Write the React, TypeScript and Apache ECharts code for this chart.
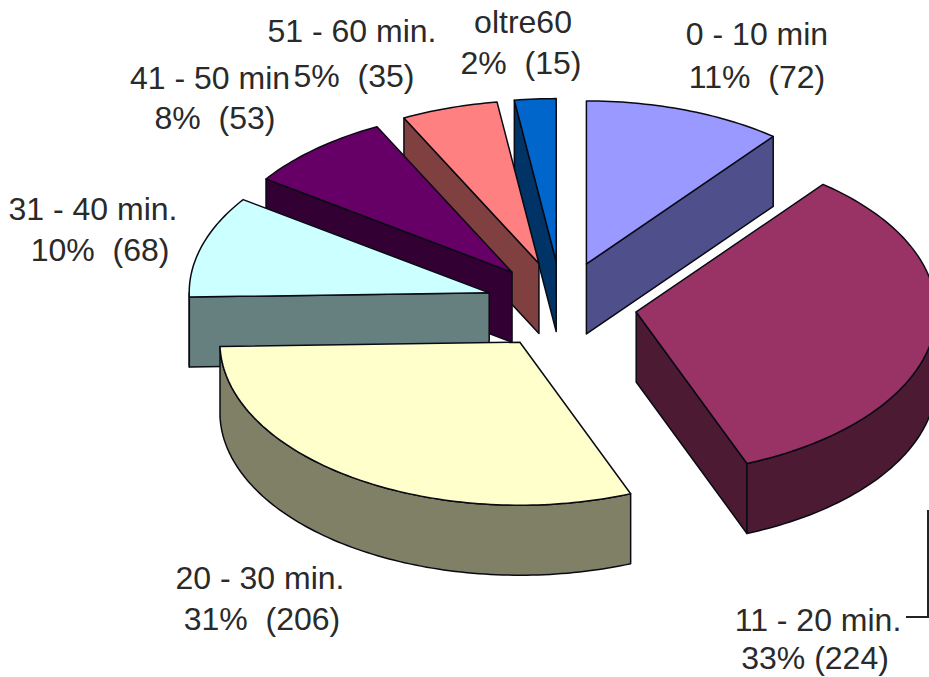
import React, { useEffect, useRef } from "react";
import * as echarts from "echarts";

const categories = ["0 - 10 min", "11 - 20 min.", "20 - 30 min.", "31 - 40 min.", "41 - 50 min", "51 - 60 min.", "oltre60"];
const values = [72, 224, 206, 68, 53, 35, 15];
const details = ["11%  (72)", "33% (224)", "31%  (206)", "10%  (68)", "8%  (53)", "5%  (35)", "2%  (15)"];
const topColors = ["#9999FF", "#993366", "#FFFFCC", "#CCFFFF", "#660066", "#FF8080", "#0066CC"];
const sideColors = ["#4F4F8C", "#4D1A33", "#808066", "#668080", "#330033", "#804040", "#003366"];
const drawOrder = [6, 5, 4, 3, 2, 0, 1];

// Label anchors: [name x, name y, detail x, detail y]
const labelPositions = [
  [757, 34, 757, 77],
  [818, 620, 815, 658],
  [260, 578, 262, 619],
  [93, 209, 100, 250],
  [210, 78, 215, 118],
  [352, 31, 354, 76],
  [523, 22, 521, 63],
];

const CX = 561.5;
const CY = 305.5;
const RX = 300;
const RY = 163;
const EXPLODE_X = 75.5;
const EXPLODE_Y = 44;
const DEPTH = 70;
const OUTLINE = "#0a0a14";

const total = values.reduce((a, b) => a + b, 0);
const startAngles: number[] = [];
values.reduce((acc, v, i) => {
  startAngles[i] = acc;
  return acc + (v / total) * Math.PI * 2;
}, 0);

function renderSlice(_params: any, api: any) {
  const idx = api.value(1) as number;
  const value = api.value(0) as number;
  const a0 = startAngles[idx];
  const a1 = a0 + (value / total) * Math.PI * 2;
  const mid = (a0 + a1) / 2;
  const ax = CX + EXPLODE_X * Math.sin(mid);
  const ay = CY - EXPLODE_Y * Math.cos(mid);
  const rim = (t: number, dy = 0): number[] => [ax + RX * Math.sin(t), ay - RY * Math.cos(t) + dy];
  const arc = (from: number, to: number, dy = 0) => {
    const n = Math.max(2, Math.ceil((to - from) / 0.02));
    const pts: number[][] = [];
    for (let k = 0; k <= n; k++) pts.push(rim(from + ((to - from) * k) / n, dy));
    return pts;
  };
  const side = { fill: sideColors[idx], stroke: OUTLINE, lineWidth: 1.5, lineJoin: "round" };
  const children: any[] = [];
  const face = (t: number) => {
    children.push({
      type: "polygon",
      shape: { points: [[ax, ay], rim(t), rim(t, DEPTH), [ax, ay + DEPTH]] },
      style: side,
    });
  };
  if (Math.sin(a0) < -0.001) face(a0);
  if (Math.sin(a1) > 0.001) face(a1);
  const f0 = Math.max(a0, Math.PI / 2);
  const f1 = Math.min(a1, (Math.PI * 3) / 2);
  if (f1 > f0) {
    children.push({
      type: "polygon",
      shape: { points: [...arc(f0, f1), ...arc(f0, f1, DEPTH).reverse()] },
      style: side,
    });
  }
  children.push({
    type: "polygon",
    shape: { points: [[ax, ay], ...arc(a0, a1)] },
    style: { fill: topColors[idx], stroke: OUTLINE, lineWidth: 1.5, lineJoin: "round" },
  });
  return { type: "group", children };
}

const textStyle = (text: string, x: number, y: number) => ({
  type: "text",
  x,
  y,
  z: 10,
  style: {
    text,
    fill: "#2a2a2a",
    font: '32px "Liberation Sans", Arial, sans-serif',
    textAlign: "center",
    textVerticalAlign: "middle",
  },
});

export default function App() {
  const ref = useRef<HTMLDivElement>(null);
  useEffect(() => {
    document.body.style.margin = "0";
    const chart = echarts.init(ref.current!, null, { renderer: "svg" });
    chart.setOption({
      animation: false,
      backgroundColor: "#ffffff",
      series: [
        {
          type: "custom",
          coordinateSystem: "none",
          renderItem: renderSlice,
          silent: true,
          data: drawOrder.map((i) => ({ name: categories[i], value: [values[i], i] })),
        },
      ],
      graphic: {
        elements: [
          ...categories.flatMap((name, i) => {
            const p = labelPositions[i];
            return [textStyle(name, p[0], p[1]), textStyle(details[i], p[2], p[3])];
          }),
          {
            type: "polyline",
            z: 10,
            shape: { points: [[906, 617], [928, 617], [928, 510]] },
            style: { stroke: "#222", lineWidth: 2, fill: "none" },
          },
        ],
      },
    });
    return () => chart.dispose();
  }, []);
  return <div ref={ref} style={{ width: 929, height: 677 }} />;
}
